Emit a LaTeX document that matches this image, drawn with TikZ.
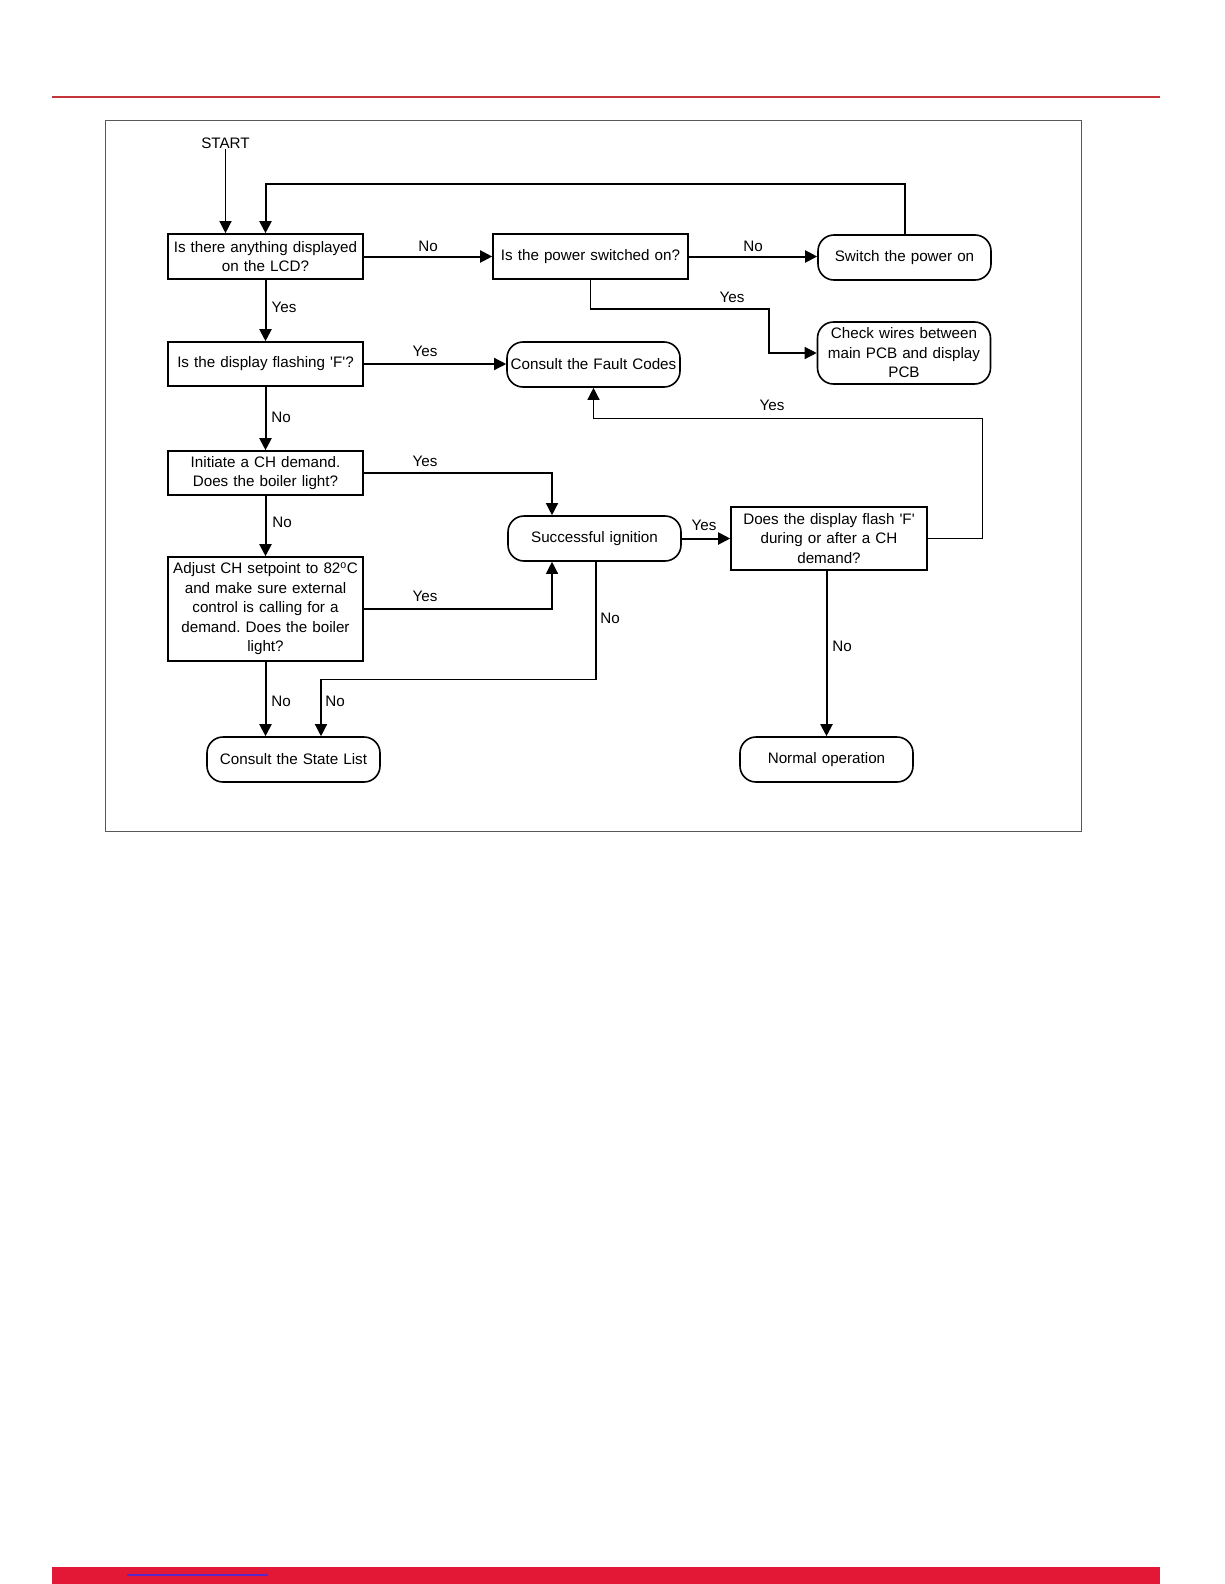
\documentclass[tikz,border=0pt]{standalone}
\usepackage{fontspec}
\setmainfont{Liberation Sans}
\usetikzlibrary{arrows.meta,calc}
\definecolor{toprule}{RGB}{196,52,56}
\definecolor{footbar}{RGB}{227,24,55}
\definecolor{footlink}{RGB}{90,40,200}
\frenchspacing
\begin{document}
\begin{tikzpicture}[line cap=butt,line join=miter,x=1pt,y=-1pt,
	font=\fontsize{15.2}{19.5}\selectfont,
	>={Triangle[length=12pt,width=12pt]},
	qbox/.style={draw,line width=1.6pt,inner sep=0pt,minimum width=195pt,minimum height=45pt,text width=192pt,align=center},
	rbox/.style={draw,line width=1.6pt,rounded corners=16pt,inner sep=0pt,minimum width=173pt,minimum height=45pt,text width=170pt,align=center},
	thk/.style={line width=2pt,->},
	thn/.style={line width=1.3pt,->},
	lbl/.style={inner sep=0pt}]
	\useasboundingbox (0,0) rectangle (1224,1584);
	% page decoration
	\draw[toprule,line width=1.6pt] (52,97)-- (1160,97);
	\fill[footbar] (52,1567) rectangle (1160,1584);
	\draw[footlink,line width=1.4pt] (127,1575)-- (268,1575);
	\draw[gray!70!black,line width=1pt] (105,121) rectangle (1081,831);
	% nodes
	\node[lbl] (start) at (225.5,143) {START};
	\node[qbox] (lcd) at (265.5,256.5) {Is there anything displayed\\on the LCD?};
	\node[qbox] (pow) at (590.5,256.5) {Is the power switched on?};
	\node[rbox] (sw) at (904.5,257.5) {Switch the power on};
	\node[rbox,minimum height=62pt] (chk) at (904,353) {Check wires between\\main PCB and display\\PCB};
	\node[qbox,minimum height=44pt] (fla) at (265.5,364) {Is the display flashing \textquotesingle F\textquotesingle?};
	\node[rbox] (flt) at (593.5,364.5) {Consult the Fault Codes};
	\node[qbox,minimum height=44pt] (ini) at (265.5,473) {Initiate a CH demand.\\Does the boiler light?};
	\node[rbox] (ign) at (594.5,538.5) {Successful ignition};
	\node[qbox,minimum width=196pt,minimum height=63pt] (dfl) at (829,538.5) {Does the display flash \textquotesingle F\textquotesingle\\during or after a CH\\demand?};
	\node[qbox,minimum height=104pt] (adj) at (265.5,609) {Adjust CH setpoint to 82\textsuperscript{o}C\\and make sure external\\control is calling for a\\demand. Does the boiler\\light?};
	\node[rbox] (st) at (293.5,759.5) {Consult the State List};
	\node[rbox] (nrm) at (826.5,759.5) {Normal operation};
	% connectors
	\draw[thn] (start.south) -- (start.south |- lcd.north);
	\draw[thk] (sw.north) -- ++(0,-50) -| (lcd.north);
	\draw[thk] (lcd.east) -- (pow.west);
	\draw[thk] (pow.east) -- (pow.east -| sw.west);
	\draw[thn] (pow.south) |- (769,309) |- (chk.west);
	\draw[thk] (lcd.south) -- (fla.north);
	\draw[thn] (fla.east) -- (fla.east -| flt.west);
	\draw[thk] (fla.south) -- (ini.north);
	\draw[thn] (ini.east) -| ($(ign.north)+(-42.5,0)$);
	\draw[thk] (ini.south) -- (adj.north);
	\draw[thn] (adj.east) -| ($(ign.south)+(-42.5,0)$);
	\draw[thk] (adj.south) -- (adj.south |- st.north);
	\draw[thn] ($(ign.south)+(1.5,0)$) -- ++(0,118) -| ($(st.north)+(27.5,0)$);
	\draw[thk] (ign.east) -- (dfl.west);
	\draw[thn] (dfl.east) -- ++(55,0) |- ($(flt.south)+(0,31)$) -- (flt.south);
	\draw[thk] (dfl.south -| nrm.north) -- (nrm.north);
	% labels
	\node[lbl] at (428,246) {No};
	\node[lbl] at (753,246) {No};
	\node[lbl] at (732,297) {Yes};
	\node[lbl] at (284,307) {Yes};
	\node[lbl] at (425,351) {Yes};
	\node[lbl] at (772,405) {Yes};
	\node[lbl] at (281,417) {No};
	\node[lbl] at (425,461) {Yes};
	\node[lbl] at (282,522) {No};
	\node[lbl] at (704,525) {Yes};
	\node[lbl] at (425,596) {Yes};
	\node[lbl] at (610,618) {No};
	\node[lbl] at (842,646) {No};
	\node[lbl] at (281,701) {No};
	\node[lbl] at (335,701) {No};
\end{tikzpicture}
\end{document}
